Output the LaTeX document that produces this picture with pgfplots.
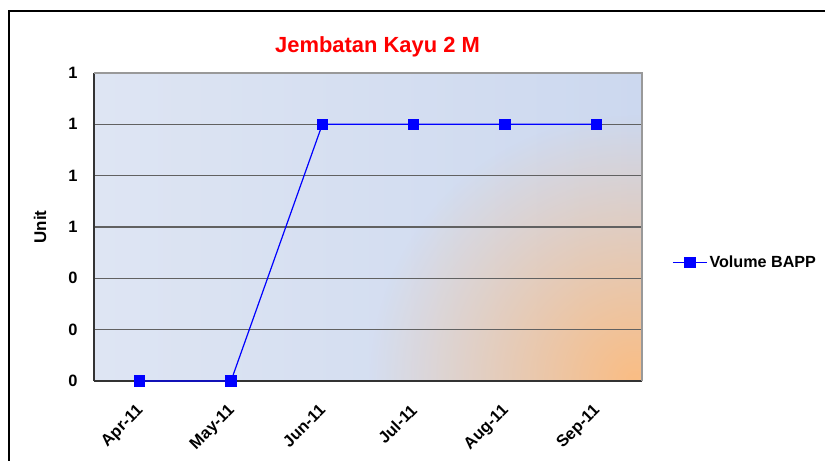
\documentclass[border=0pt]{standalone}
\usepackage{fontspec}
\setmainfont{Liberation Sans}
\usepackage{pgfplots}
\pgfplotsset{compat=1.18}
\usetikzlibrary{fadings}
\tikzfading[name=radfade, inner color=transparent!0, outer color=transparent!100]
\definecolor{bgL}{HTML}{DEE5F3}
\definecolor{bgM}{HTML}{BECDEA}
\definecolor{bgR}{HTML}{CCD8EF}
\definecolor{orangeC}{HTML}{FABD84}
\begin{document}
\begin{tikzpicture}
\path[use as bounding box] (0bp,0bp) rectangle (825bp,-461bp);
% plot area background
\begin{scope}
\clip (94bp,-73bp) rectangle (642bp,-381bp);
\shade[left color=bgL, middle color=bgM, right color=bgR] (94bp,-73bp) rectangle (642bp,-381bp);
\fill[orangeC, path fading=radfade] (635bp,-380bp) circle (265bp);
\end{scope}
\begin{axis}[
  at={(94bp,-381bp)}, anchor=south west,
  width=548bp, height=308bp, scale only axis,
  xmin=-0.5, xmax=5.5, ymin=0, ymax=1.2,
  axis x line*=bottom, axis y line*=left,
  axis line style={draw=black!80, line width=1.3bp, -},
  ytick={0,0.2,0.4,0.6,0.8,1,1.2},
  yticklabel={\pgfmathprintnumber[fixed,precision=0]{\tick}},
  ymajorgrids, grid style={black!62, line width=1.3bp},
  xtick={0,1,2,3,4,5},
  xticklabels={Apr-11,May-11,Jun-11,Jul-11,Aug-11,Sep-11},
  major tick length=0pt,
  /pgf/number format/assume math mode=true,
  tick label style={font=\fontsize{16.5}{19}\selectfont\bfseries},
  yticklabel style={xshift=-13bp},
  xticklabel style={xshift=-4bp, yshift=-22bp, inner sep=0pt, rotate=45, anchor=north east},
  ylabel={Unit},
  ylabel style={at={(axis description cs:-0.0985,0.5)}, anchor=center, font=\fontsize{17}{20}\selectfont\bfseries},
  legend entries={Volume BAPP},
  legend style={draw=none, fill=none, at={(1.055,0.386)}, anchor=west,
    font=\fontsize{16.2}{19}\selectfont\bfseries, inner sep=0pt},
  legend image code/.code={\draw[mark repeat=2,mark phase=2,#1] plot coordinates {(0bp,0bp)(17bp,0bp)(34bp,0bp)};},
]
\addplot[blue, line width=1.2bp, mark=square*, mark size=5bp, mark options={solid, fill=blue}]
  coordinates {(0,0)(1,0)(2,1)(3,1)(4,1)(5,1)};
\end{axis}
\draw[black!40, line width=1.3bp] (94bp,-73bp) -- (642bp,-73bp) -- (642bp,-381bp);
\node[text=red, font=\fontsize{22}{26}\selectfont\bfseries] at (377.5bp,-47bp) {Jembatan Kayu 2 M};
\draw[black, line width=2bp] (9bp,-480bp) -- (9bp,-11bp) -- (840bp,-11bp);
\end{tikzpicture}
\end{document}
